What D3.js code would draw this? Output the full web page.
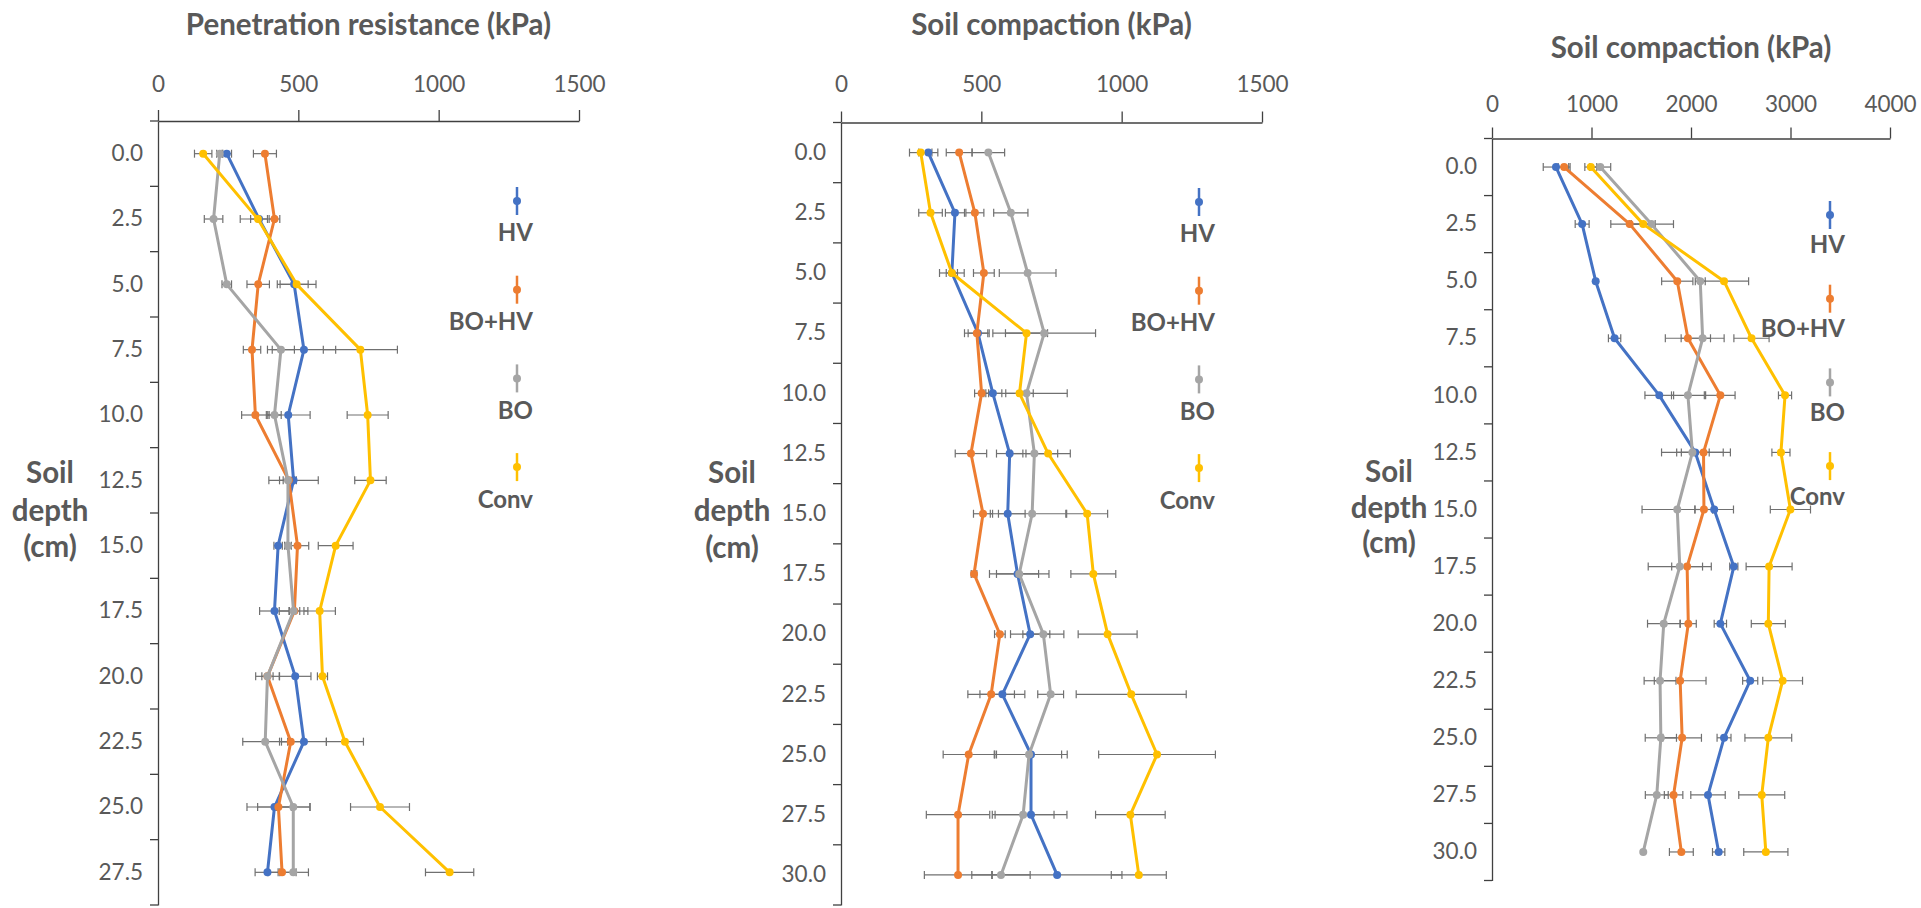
<!DOCTYPE html>
<html>
<head>
<meta charset="utf-8">
<script src="https://cdn.jsdelivr.net/npm/d3@7"></script>
<style>
body { margin: 0; background: #fff; }
text { font-family: Lato, "Open Sans", sans-serif; fill: #595959; }
</style>
</head>
<body>
<svg id="vis"></svg>
<script>
const WIDTH = 1921;
const HEIGHT = 908;

const seriesNames = ["HV", "BO+HV", "BO", "Conv"];
const seriesColors = ["#4472C4", "#ED7D31", "#A5A5A5", "#FFC000"];

// depth categories (cm)
const depthsPen = ["0.0", "2.5", "5.0", "7.5", "10.0", "12.5", "15.0", "17.5", "20.0", "22.5", "25.0", "27.5"];
const depthsComp = ["0.0", "2.5", "5.0", "7.5", "10.0", "12.5", "15.0", "17.5", "20.0", "22.5", "25.0", "27.5", "30.0"];

// penetration resistance (kPa)
const penHV   = [245, 360, 485, 520, 464, 483, 428, 415, 489, 520, 415, 390];
const penBOHV = [381, 415, 357, 335, 347, 466, 497, 486, 390, 473, 429, 442];
const penBO   = [220, 198, 245, 438, 415, 463, 463, 483, 390, 382, 482, 482];
const penConv = [161, 356, 494, 721, 747, 757, 633, 576, 586, 666, 791, 1039];
const penErrHV   = [17, 30, 50, 113, 78, 88, 15, 53, 56, 80, 60, 44];
const penErrBOHV = [41, 19, 40, 31, 49, 20, 40, 19, 20, 40, 112, 50];
const penErrBO   = [11, 33, 17, 48, 24, 30, 12, 51, 42, 80, 60, 54];
const penErrConv = [31, 63, 69, 132, 73, 56, 62, 56, 18, 66, 105, 86];

// soil compaction, middle chart (kPa)
const compAHV   = [311, 406, 395, 488, 541, 601, 594, 629, 674, 575, 677, 677, 770];
const compABOHV = [421, 477, 509, 484, 501, 463, 506, 474, 566, 535, 455, 417, 417];
const compABO   = [525, 605, 665, 724, 661, 689, 681, 635, 721, 747, 670, 649, 570];
const compAConv = [284, 319, 395, 661, 636, 738, 877, 899, 950, 1034, 1126, 1031, 1061];
const compAErrHV   = [34, 34, 20, 35, 32, 47, 62, 75, 70, 80, 129, 128, 231];
const compAErrBOHV = [46, 32, 37, 44, 25, 56, 34, 10, 19, 83, 91, 113, 120];
const compAErrBO   = [58, 61, 101, 183, 145, 83, 120, 106, 73, 46, 116, 110, 104];
const compAErrConv = [40, 42, 44, 75, 49, 79, 73, 80, 105, 196, 208, 124, 98];

// soil compaction, right chart (kPa)
const compBHV   = [643, 906, 1042, 1232, 1681, 2043, 2233, 2430, 2295, 2595, 2332, 2171, 2278];
const compBBOHV = [725, 1384, 1862, 1969, 2295, 2126, 2130, 1961, 1973, 1891, 1911, 1825, 1903];
const compBBO   = [1088, 1602, 2093, 2117, 1969, 2014, 1862, 1887, 1726, 1689, 1697, 1656, 1520];
const compBConv = [993, 1520, 2332, 2608, 2945, 2904, 2999, 2785, 2777, 2921, 2777, 2711, 2752];
const compBErrHV   = [128, 70, 0, 62, 144, 140, 194, 41, 62, 76, 70, 173, 62];
const compBErrBOHV = [60, 190, 157, 227, 148, 270, 90, 155, 80, 260, 194, 93, 120];
const compBErrBO   = [105, 222, 50, 216, 165, 310, 354, 317, 163, 160, 157, 115, 0];
const compBErrConv = [60, 120, 247, 177, 66, 91, 202, 231, 171, 200, 235, 231, 222];

const xTicksPen = [0, 500, 1000, 1500];
const xTicksCompA = [0, 500, 1000, 1500];
const xTicksCompB = [0, 1000, 2000, 3000, 4000];

const panels = [
    {title: "Penetration resistance (kPa)", depths: depthsPen, ticks: xTicksPen,
     values: [penHV, penBOHV, penBO, penConv], errors: [penErrHV, penErrBOHV, penErrBO, penErrConv],
     x0: 158, x1: 579, yTop: 121, yBot: 905, titleY: 25, tickLabelY: 84,
     depthX: 50, depthY: [473, 511, 547], legX: 517, legTextX: 533, legY0: 201, legStep: 88.7, legDy: 32},
    {title: "Soil compaction (kPa)", depths: depthsComp, ticks: xTicksCompA,
     values: [compAHV, compABOHV, compABO, compAConv], errors: [compAErrHV, compAErrBOHV, compAErrBO, compAErrConv],
     x0: 841, x1: 1262, yTop: 122.5, yBot: 905, titleY: 25, tickLabelY: 84,
     depthX: 732, depthY: [473, 511, 548], legX: 1199, legTextX: 1215, legY0: 202, legStep: 88.7, legDy: 32},
    {title: "Soil compaction (kPa)", depths: depthsComp, ticks: xTicksCompB,
     values: [compBHV, compBBOHV, compBBO, compBConv], errors: [compBErrHV, compBErrBOHV, compBErrBO, compBErrConv],
     x0: 1492, x1: 1890, yTop: 138.5, yBot: 880.5, titleY: 48, tickLabelY: 104,
     depthX: 1389, depthY: [472, 508, 543], legX: 1830, legTextX: 1845, legY0: 215, legStep: 83.7, legDy: 30}
];

const AXIS_COLOR = "#404040";
const ERR_COLOR = "#707070";

const svg = d3.select("#vis").attr("width", WIDTH).attr("height", HEIGHT);

panels.forEach(function(p) {
    const g = svg.append("g");
    const x = d3.scaleLinear().domain([0, d3.max(p.ticks)]).range([p.x0, p.x1]);
    const y = d3.scaleBand().domain(p.depths).range([p.yTop, p.yBot]);
    const mid = d => y(d) + y.bandwidth() / 2;

    // title
    g.append("text")
        .attr("x", (p.x0 + p.x1) / 2)
        .attr("y", p.titleY)
        .attr("dy", "0.35em")
        .attr("text-anchor", "middle")
        .style("font-size", "29.5px")
        .style("font-weight", "bold")
        .text(p.title);

    // top value axis
    const xAxis = g.append("g")
        .attr("transform", "translate(0," + p.yTop + ")")
        .call(d3.axisTop(x).tickValues(p.ticks).tickSize(11).tickSizeOuter(0).tickFormat(d3.format("d")));
    xAxis.select(".domain").attr("stroke", AXIS_COLOR).attr("stroke-width", 1.3);
    xAxis.selectAll(".tick line").attr("stroke", AXIS_COLOR).attr("stroke-width", 1.3);
    xAxis.selectAll(".tick text")
        .attr("y", p.tickLabelY - p.yTop)
        .attr("dy", "0.35em")
        .style("font-size", "22.5px")
        .attr("fill", null);

    // left category axis
    const yAxis = g.append("g")
        .attr("transform", "translate(" + p.x0 + ",0)")
        .call(d3.axisLeft(y).tickSize(0).tickPadding(15));
    yAxis.select(".domain").attr("stroke", AXIS_COLOR).attr("stroke-width", 1.3);
    yAxis.selectAll(".tick text")
        .style("font-size", "22.5px")
        .attr("fill", null);
    const bounds = p.depths.map(d => y(d)).concat([y.range()[1]]);
    g.selectAll(".ytick")
        .data(bounds)
        .enter()
        .append("line")
        .attr("x1", p.x0 - 8).attr("x2", p.x0)
        .attr("y1", d => d).attr("y2", d => d)
        .attr("stroke", AXIS_COLOR)
        .attr("stroke-width", 1.3);

    // axis title
    g.selectAll(".depthlabel")
        .data(["Soil", "depth", "(cm)"])
        .enter()
        .append("text")
        .attr("x", p.depthX)
        .attr("y", (d, i) => p.depthY[i])
        .attr("dy", "0.35em")
        .attr("text-anchor", "middle")
        .style("font-size", "29.5px")
        .style("font-weight", "bold")
        .text(d => d);

    // error bars
    p.values.forEach(function(vals, s) {
        const errs = p.errors[s];
        const pts = p.depths.map((d, i) => ({d: d, v: vals[i], e: errs[i]})).filter(o => o.e > 0);
        const eb = g.append("g").attr("stroke", ERR_COLOR).attr("stroke-width", 1.2);
        eb.selectAll(".bar").data(pts).enter().append("line")
            .attr("x1", o => x(o.v - o.e)).attr("x2", o => x(o.v + o.e))
            .attr("y1", o => mid(o.d)).attr("y2", o => mid(o.d));
        eb.selectAll(".capl").data(pts).enter().append("line")
            .attr("x1", o => x(o.v - o.e)).attr("x2", o => x(o.v - o.e))
            .attr("y1", o => mid(o.d) - 4).attr("y2", o => mid(o.d) + 4);
        eb.selectAll(".capr").data(pts).enter().append("line")
            .attr("x1", o => x(o.v + o.e)).attr("x2", o => x(o.v + o.e))
            .attr("y1", o => mid(o.d) - 4).attr("y2", o => mid(o.d) + 4);
    });

    // lines and markers
    p.values.forEach(function(vals, s) {
        const pts = p.depths.map((d, i) => ({d: d, v: vals[i]}));
        const line = d3.line().x(o => x(o.v)).y(o => mid(o.d));
        g.append("path")
            .datum(pts)
            .attr("d", line)
            .attr("fill", "none")
            .attr("stroke", seriesColors[s])
            .attr("stroke-width", 3)
            .attr("stroke-linejoin", "round");
        g.selectAll(".m" + s)
            .data(pts)
            .enter()
            .append("circle")
            .attr("cx", o => x(o.v))
            .attr("cy", o => mid(o.d))
            .attr("r", 4)
            .attr("fill", seriesColors[s]);
    });

    // legend
    seriesNames.forEach(function(name, s) {
        const ly = p.legY0 + s * p.legStep;
        g.append("line")
            .attr("x1", p.legX).attr("x2", p.legX)
            .attr("y1", ly - 14).attr("y2", ly + 14)
            .attr("stroke", seriesColors[s])
            .attr("stroke-width", 2.5);
        g.append("circle")
            .attr("cx", p.legX).attr("cy", ly)
            .attr("r", 4)
            .attr("fill", seriesColors[s]);
        g.append("text")
            .attr("x", p.legTextX)
            .attr("y", ly + p.legDy)
            .attr("dy", "0.35em")
            .attr("text-anchor", "end")
            .style("font-size", "24px")
            .style("font-weight", "bold")
            .text(name);
    });
});
</script>
</body>
</html>
